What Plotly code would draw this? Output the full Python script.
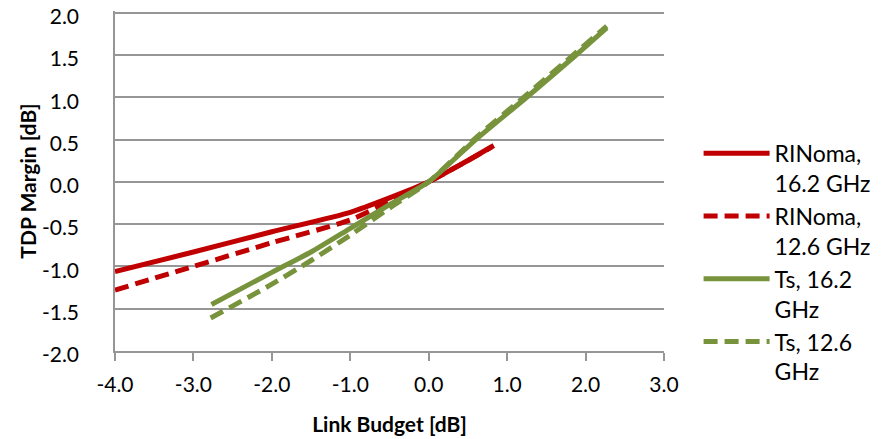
import plotly.graph_objects as go

# Link Budget [dB] (x) vs TDP Margin [dB] (y)
rin162_x = [-4.0, -3.0, -2.0, -1.0, -0.5, 0.0, 0.4, 0.83]
rin162_y = [-1.06, -0.83, -0.59, -0.36, -0.19, 0.0, 0.20, 0.43]

rin126_x = [-4.0, -3.0, -2.0, -1.0, -0.5, 0.0, 0.4, 0.80]
rin126_y = [-1.28, -1.00, -0.72, -0.45, -0.23, 0.0, 0.20, 0.41]

ts162_x = [-2.77, -2.0, -1.5, -1.0, -0.5, 0.0, 0.6, 1.25, 1.88, 2.27]
ts162_y = [-1.45, -1.07, -0.83, -0.55, -0.27, 0.0, 0.50, 1.00, 1.50, 1.82]

ts126_x = [-2.78, -2.0, -1.5, -1.0, -0.5, 0.0, 0.6, 1.25, 1.88, 2.27]
ts126_y = [-1.61, -1.21, -0.93, -0.63, -0.31, 0.0, 0.52, 1.03, 1.53, 1.84]

names = ["RINoma,<br>16.2 GHz", "RINoma,<br>12.6 GHz", "Ts, 16.2<br>GHz", "Ts, 12.6<br>GHz"]

x_ticks = [-4, -3, -2, -1, 0, 1, 2, 3]
x_labels = ["-4.0", "-3.0", "-2.0", "-1.0", "0.0", "1.0", "2.0", "3.0"]
y_ticks = [-2, -1.5, -1, -0.5, 0, 0.5, 1, 1.5, 2]
y_labels = ["-2.0", "-1.5", "-1.0", "-0.5", "0.0", "0.5", "1.0", "1.5", "2.0"]

RED = "#C00000"
GREEN = "#77933C"
GRID = "#969696"
FONT = "Lato"

fig = go.Figure()
series = [
    (rin162_x, rin162_y, names[0], RED, "solid"),
    (rin126_x, rin126_y, names[1], RED, "14px,7px"),
    (ts162_x, ts162_y, names[2], GREEN, "solid"),
    (ts126_x, ts126_y, names[3], GREEN, "14px,7px"),
]
for xs, ys, nm, col, dash in series:
    fig.add_trace(go.Scatter(
        x=xs, y=ys, name=nm, mode="lines",
        line=dict(color=col, width=5, dash=dash, shape="spline", smoothing=0.6),
    ))

# page body adds an 8px offset, so the figure is 8px smaller than the window
fig.update_layout(
    width=876, height=431,
    margin=dict(l=107, r=219.5, t=3.4, b=87.5),
    plot_bgcolor="white", paper_bgcolor="white",
    font=dict(family=FONT, size=21, color="#000000"),
    showlegend=True,
    legend=dict(
        x=1.063, y=0.645, xanchor="left", yanchor="top",
        font=dict(family=FONT, size=23, color="#000000"),
        itemwidth=66, valign="top", tracegroupgap=0,
        bgcolor="rgba(0,0,0,0)",
    ),
)
fig.update_xaxes(
    range=[-4, 3], tickvals=x_ticks, ticktext=x_labels,
    showgrid=False, zeroline=False, automargin=False,
    showline=True, linecolor=GRID, linewidth=1.5,
    ticks="outside", ticklen=8, tickcolor=GRID, tickwidth=1.5,
    ticklabelstandoff=6, ticklabeloverflow="allow",
    tickfont=dict(family=FONT, size=21),
    title=dict(text="<b>Link Budget [dB]</b>", font=dict(family=FONT, size=21), standoff=22),
)
fig.update_yaxes(
    range=[-2, 2.02], tickvals=y_ticks, ticktext=y_labels,
    showgrid=True, gridcolor=GRID, gridwidth=1.5,
    zeroline=False, automargin=False,
    showline=True, linecolor=GRID, linewidth=1.5,
    ticks="", ticklabelstandoff=30, ticklabelshift=4, ticklabeloverflow="allow",
    tickfont=dict(family=FONT, size=21),
    title=dict(text="<b>TDP Margin [dB]</b>", font=dict(family=FONT, size=21), standoff=0),
)

fig.write_html("out.html")
